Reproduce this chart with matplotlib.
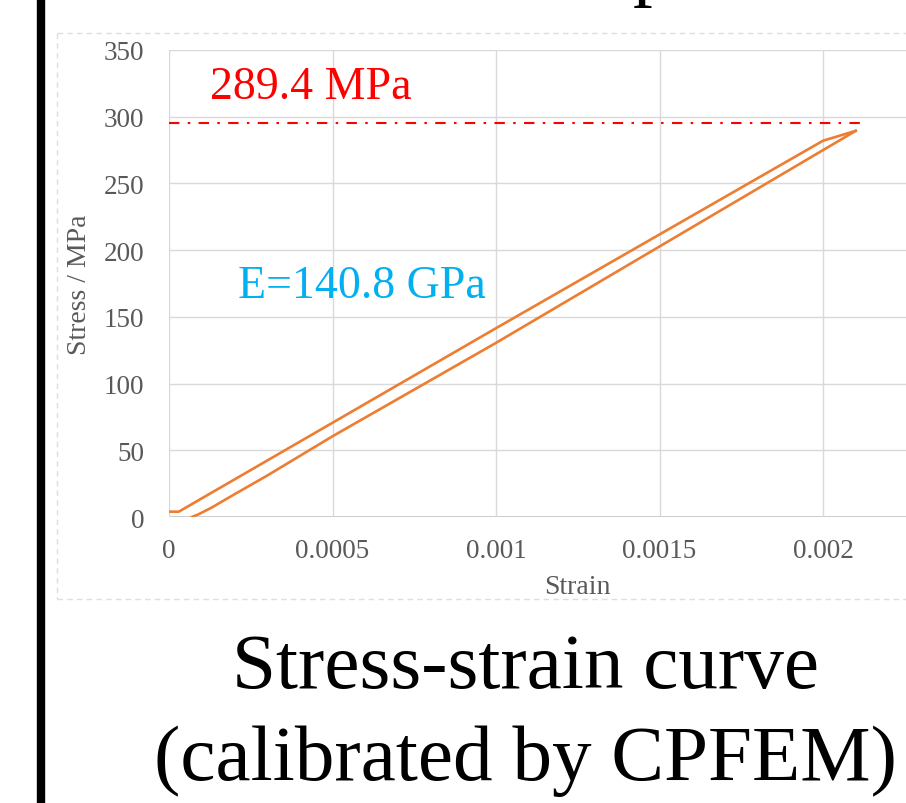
import matplotlib
matplotlib.use('Agg')
import matplotlib.pyplot as plt
from matplotlib.patches import Rectangle
from matplotlib.lines import Line2D

plt.rcParams['font.family'] = ['Liberation Serif', 'DejaVu Serif']

# loading branch (strain, MPa)
load_strain = [0.0, 0.00003, 0.001, 0.002, 0.0021]
load_stress = [4.0, 4.0, 141.5, 282.0, 289.4]
# unloading branch
unload_strain = [0.0021, 0.001, 0.0005, 0.0003, 0.0002, 0.00013, 0.00009, 0.00007]
unload_stress = [289.4, 130.5, 60.5, 31.0, 17.0, 7.0, 2.0, 0.0]

peak_line_y = 295.0
peak_line_x = [0.0, 0.00212]
peak_label = '289.4 MPa'
modulus_label = 'E=140.8 GPa'

x_ticks = [0, 0.0005, 0.001, 0.0015, 0.002]
x_tick_labels = ['0', '0.0005', '0.001', '0.0015', '0.002']
y_ticks = [0, 50, 100, 150, 200, 250, 300, 350]

W, H = 906, 804
fig = plt.figure(figsize=(W / 100, H / 100), dpi=100)

def fx(px):
    return px / W

def fy(py):
    return 1 - py / H

# black bar on the left
fig.patches.append(Rectangle((fx(37), 0), fx(7), 1, transform=fig.transFigure,
                             color='black', zorder=0))
# dashed chart border
for xs, ys in [([57, 920], [34, 34]), ([57, 57], [34, 600]), ([57, 920], [600, 600])]:
    fig.lines.append(Line2D([fx(v) for v in xs], [fy(v) for v in ys], transform=fig.transFigure,
                            color='#dedede', lw=1.0, ls=(0, (4, 3))))

# cut-off heading above
fig.text(fx(633), fy(-9), 'p', fontsize=57, ha='left', va='baseline', color='black')

ax = fig.add_axes([fx(169), fy(518), 817.5 / W, 467 / H])
ax.set_xlim(0, 0.0025)
ax.set_ylim(0, 350)
for s in ax.spines.values():
    s.set_visible(False)
ax.set_xticks(x_ticks)
ax.set_xticklabels(x_tick_labels)
ax.set_yticks(y_ticks)
ax.tick_params(length=0, labelsize=19.5, labelcolor='#595959')
ax.tick_params(axis='x', pad=15)
ax.tick_params(axis='y', pad=18)
ax.grid(True, color='#d9d9d9', lw=1.0)
ax.axhline(0, color='#bfbfbf', lw=1.2, zorder=1)

ax.plot(load_strain, load_stress, color='#ED7D31', lw=1.9, zorder=3)
ax.plot(unload_strain, unload_stress, color='#ED7D31', lw=1.9, zorder=3)
ax.plot(peak_line_x, [peak_line_y, peak_line_y], color='#FF0000', lw=1.5,
        dashes=(5, 4, 1.2, 4), zorder=4)

fig.text(fx(210), fy(99), peak_label, fontsize=33, color='#FF0000', ha='left', va='baseline')
fig.text(fx(238), fy(298), modulus_label, fontsize=33, color='#00B0F0', ha='left', va='baseline')

fig.text(fx(79), fy(285), 'Stress / MPa', fontsize=20, color='#595959', rotation=90,
         ha='center', va='center')
fig.text(fx(577), fy(594), 'Strain', fontsize=20, color='#595959', ha='center', va='baseline')

fig.text(fx(525), fy(688), 'Stress-strain curve', fontsize=57, ha='center', va='baseline')
fig.text(fx(525), fy(780), '(calibrated by CPFEM)', fontsize=57, ha='center', va='baseline')

fig.savefig('out.png', dpi=100)
